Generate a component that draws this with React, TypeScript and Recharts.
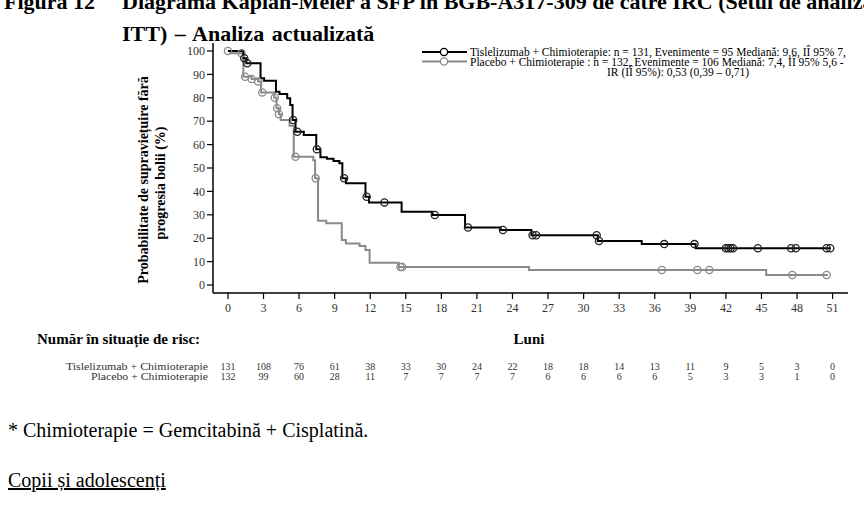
import { ComposedChart, Line, Scatter, XAxis, YAxis } from 'recharts';

// Kaplan-Meier steps (month, % progression-free)
const tisSteps = [
  { t: 0, s: 100 }, { t: 1.3, s: 96.9 }, { t: 1.55, s: 94.7 }, { t: 2.75, s: 88.3 },
  { t: 3.05, s: 87.3 }, { t: 4.05, s: 82.6 }, { t: 4.35, s: 81.6 }, { t: 5.0, s: 79.8 },
  { t: 5.25, s: 76.9 }, { t: 5.45, s: 70.5 }, { t: 5.7, s: 65.5 }, { t: 6.4, s: 64.1 },
  { t: 7.45, s: 58 }, { t: 7.8, s: 54.6 }, { t: 8.35, s: 54 }, { t: 8.9, s: 53 },
  { t: 9.4, s: 52 }, { t: 9.65, s: 45.6 }, { t: 9.95, s: 43.5 }, { t: 11.6, s: 37.7 },
  { t: 11.9, s: 35.3 }, { t: 14.65, s: 31.3 }, { t: 17.25, s: 29.9 }, { t: 20.0, s: 24.6 },
  { t: 23.0, s: 23.5 }, { t: 25.6, s: 21.3 }, { t: 31.2, s: 18.8 }, { t: 34.9, s: 17.5 },
  { t: 39.45, s: 15.7 }, { t: 50.8, s: 15.7 },
];

const tisCensored = [
  { t: 1.38, s: 96.9 }, { t: 1.63, s: 94.7 }, { t: 5.5, s: 70.5 }, { t: 5.85, s: 65.5 },
  { t: 7.5, s: 58 }, { t: 9.8, s: 45.6 }, { t: 11.7, s: 37.7 }, { t: 13.2, s: 35.3 },
  { t: 17.45, s: 29.9 }, { t: 20.25, s: 24.6 }, { t: 23.2, s: 23.5 }, { t: 25.7, s: 21.3 },
  { t: 26.0, s: 21.3 }, { t: 31.1, s: 21.3 }, { t: 31.3, s: 18.8 }, { t: 36.8, s: 17.5 },
  { t: 39.35, s: 17.5 }, { t: 42.0, s: 15.7 }, { t: 42.2, s: 15.7 }, { t: 42.4, s: 15.7 },
  { t: 42.6, s: 15.7 }, { t: 44.7, s: 15.7 }, { t: 47.5, s: 15.7 }, { t: 47.9, s: 15.7 },
  { t: 50.5, s: 15.7 }, { t: 50.8, s: 15.7 },
];

const pboSteps = [
  { t: 0, s: 100 }, { t: 0.2, s: 99 }, { t: 1.3, s: 89 }, { t: 2.0, s: 88 },
  { t: 2.55, s: 87 }, { t: 2.8, s: 82.3 }, { t: 3.9, s: 80 }, { t: 4.1, s: 75.5 },
  { t: 4.3, s: 73 }, { t: 4.45, s: 70.5 }, { t: 5.2, s: 68 }, { t: 5.55, s: 54.8 },
  { t: 7.2, s: 53.3 }, { t: 7.35, s: 45.6 }, { t: 7.6, s: 27.5 }, { t: 8.3, s: 26.4 },
  { t: 9.6, s: 19.2 }, { t: 9.95, s: 17.8 }, { t: 11.1, s: 16.7 }, { t: 11.6, s: 15 },
  { t: 11.95, s: 9.5 }, { t: 14.4, s: 7.7 }, { t: 25.4, s: 6.4 }, { t: 45.4, s: 4.3 },
  { t: 50.6, s: 4.3 },
];

const pboCensored = [
  { t: 0, s: 100 }, { t: 1.15, s: 99 }, { t: 1.45, s: 89 }, { t: 2.0, s: 88 },
  { t: 2.55, s: 87 }, { t: 2.9, s: 82.3 }, { t: 3.95, s: 80 }, { t: 4.15, s: 75.5 },
  { t: 4.3, s: 73 }, { t: 5.7, s: 54.8 }, { t: 7.4, s: 45.6 }, { t: 14.55, s: 7.7 },
  { t: 14.7, s: 7.7 }, { t: 36.6, s: 6.4 }, { t: 39.6, s: 6.4 }, { t: 40.6, s: 6.4 },
  { t: 47.6, s: 4.3 }, { t: 50.5, s: 4.3 },
];

const monthTicks = [0, 3, 6, 9, 12, 15, 18, 21, 24, 27, 30, 33, 36, 39, 42, 45, 48, 51];
const pctTicks = [0, 10, 20, 30, 40, 50, 60, 70, 80, 90, 100];
const tisAtRisk = [131, 108, 76, 61, 38, 33, 30, 24, 22, 18, 18, 14, 13, 11, 9, 5, 3, 0];
const pboAtRisk = [132, 99, 60, 28, 11, 7, 7, 7, 7, 6, 6, 6, 6, 5, 3, 3, 1, 0];

const FONT = '"Liberation Serif", "Times New Roman", serif';
const GREY = '#8a8a8a';

function MonthTick(props: any) {
  const { x, y, payload } = props;
  const i = monthTicks.indexOf(payload.value);
  return (
    <g fontFamily={FONT}>
      <text x={x} y={y} dy="0.71em" textAnchor="middle" fontSize={12} fill="#333">
        {payload.value}
      </text>
      <text x={x} y={369.5} textAnchor="middle" fontSize={10} fill="#333">{tisAtRisk[i]}</text>
      <text x={x} y={379.5} textAnchor="middle" fontSize={10} fill="#333">{pboAtRisk[i]}</text>
    </g>
  );
}

function PctTick(props: any) {
  const { x, y, payload } = props;
  return (
    <text x={x} y={y} dy="0.35em" textAnchor="end" fontSize={12} fill="#333" fontFamily={FONT}>
      {payload.value}
    </text>
  );
}

const openCircle = (color: string) => (p: any) => (
  <circle cx={p.cx} cy={p.cy} r={3.6} fill="none" stroke={color} strokeWidth={1.3} />
);

export default function App() {
  return (
    <div
      style={{
        position: 'absolute', left: 0, top: 0, width: 864, height: 512,
        overflow: 'hidden', background: '#fff', fontFamily: FONT,
      }}
    >
      <svg width={864} height={512} style={{ position: 'absolute', left: 0, top: 0 }} fontFamily={FONT}>
        <text x={4} y={9} fontSize={22} fontWeight="bold">Figura 12</text>
        <text x={122} y={9} fontSize={22} fontWeight="bold">
          Diagrama Kaplan-Meier a SFP în BGB-A317-309 de către IRC (Setul de analiză
        </text>
        <text x={122} y={41} fontSize={22} fontWeight="bold" wordSpacing={2}>ITT) – Analiza actualizată</text>

        <g fontSize={14} fontWeight="bold" textAnchor="middle">
          <text transform="translate(148,180) rotate(-90)">Probabilitate de supraviețuire fără</text>
          <text transform="translate(165,183) rotate(-90)">progresia bolii (%)</text>
        </g>

        {/* legend */}
        <line x1={422} y1={52} x2={467} y2={52} stroke="#000" strokeWidth={2} />
        <circle cx={444} cy={52} r={3.6} fill="#fff" stroke="#000" strokeWidth={1.3} />
        <line x1={422} y1={61.5} x2={467} y2={61.5} stroke={GREY} strokeWidth={2} />
        <circle cx={444} cy={61.5} r={3.6} fill="#fff" stroke={GREY} strokeWidth={1.3} />
        <g fontSize={11.5}>
          <text x={470} y={56}>Tislelizumab + Chimioterapie: n = 131, Evenimente = 95 Mediană: 9,6, IÎ 95% 7,</text>
          <text x={470} y={65.5}>Placebo + Chimioterapie : n = 132, Evenimente = 106 Mediană: 7,4, IÎ 95% 5,6 -</text>
          <text x={607} y={75.5}>IR (IÎ 95%): 0,53 (0,39 – 0,71)</text>
        </g>

        <text x={37} y={344} fontSize={15} fontWeight="bold">Număr în situație de risc:</text>
        <text x={529} y={344} fontSize={15} fontWeight="bold" textAnchor="middle">Luni</text>
        <g fontSize={10} fill="#333" textAnchor="end">
          <text x={208} y={369.5} textLength={142} lengthAdjust="spacingAndGlyphs">Tislelizumab + Chimioterapie</text>
          <text x={208} y={379.5} textLength={117} lengthAdjust="spacingAndGlyphs">Placebo + Chimioterapie</text>
        </g>

        <text x={8} y={437} fontSize={20}>* Chimioterapie = Gemcitabină + Cisplatină.</text>
        <text x={8} y={487} fontSize={20} textDecoration="underline">Copii și adolescenți</text>
      </svg>

      <div style={{ position: 'absolute', left: 0, top: 0 }}>
        <ComposedChart
          width={864}
          height={400}
          margin={{ top: 43, right: 16, bottom: 77, left: 173 }}
        >
          <XAxis
            type="number"
            dataKey="t"
            domain={[-1.26, 52.3]}
            ticks={monthTicks}
            allowDataOverflow
            tickSize={6}
            tickMargin={4}
            height={30}
            tick={<MonthTick />}
            axisLine={{ stroke: '#000', strokeWidth: 1.5 }}
            tickLine={{ stroke: '#000', strokeWidth: 1.2 }}
          />
          <YAxis
            type="number"
            dataKey="s"
            domain={[-3.4, 103.4]}
            ticks={pctTicks}
            allowDataOverflow
            width={40}
            tickSize={6}
            tickMargin={2}
            tick={<PctTick />}
            axisLine={{ stroke: '#000', strokeWidth: 1.5 }}
            tickLine={{ stroke: '#000', strokeWidth: 1.2 }}
          />
          <Line
            data={pboSteps}
            dataKey="s"
            type="stepAfter"
            stroke={GREY}
            strokeWidth={2}
            dot={false}
            isAnimationActive={false}
          />
          <Line
            data={tisSteps}
            dataKey="s"
            type="stepAfter"
            stroke="#000"
            strokeWidth={2}
            dot={false}
            isAnimationActive={false}
          />
          <Scatter data={pboCensored} dataKey="s" shape={openCircle(GREY)} isAnimationActive={false} />
          <Scatter data={tisCensored} dataKey="s" shape={openCircle('#222')} isAnimationActive={false} />
        </ComposedChart>
      </div>
    </div>
  );
}
